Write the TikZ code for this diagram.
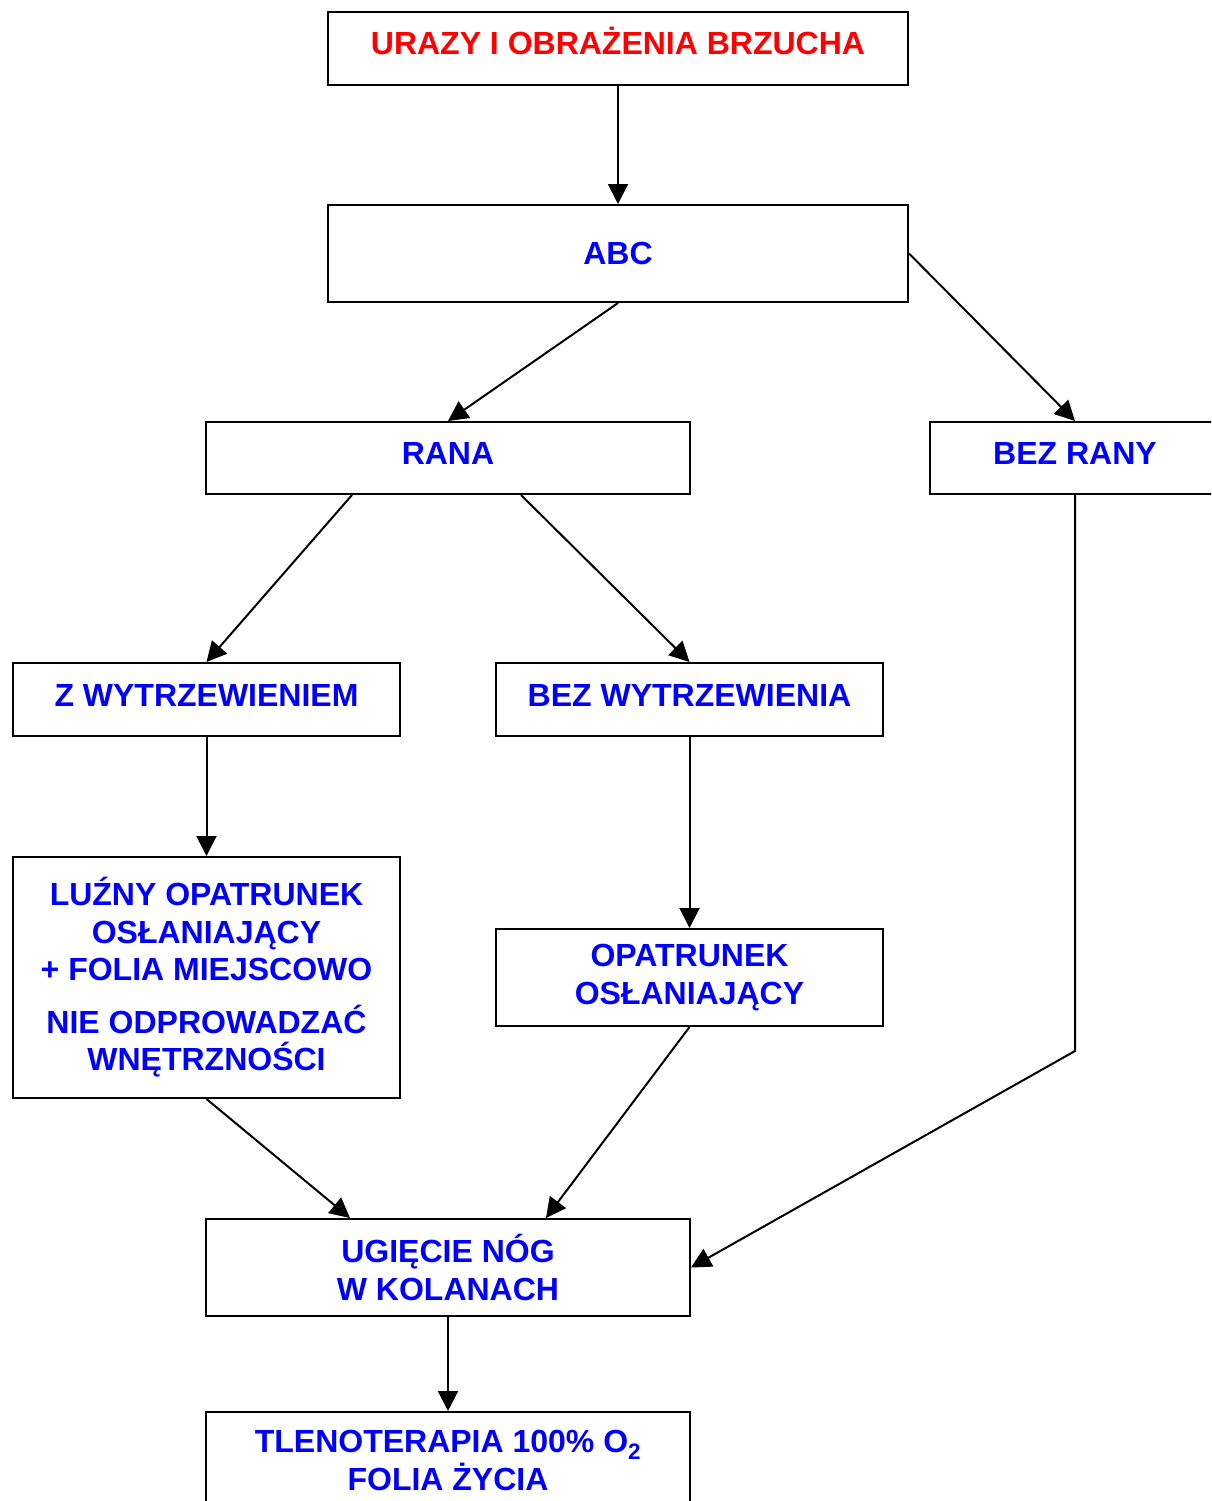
\documentclass[tikz,border=0pt]{standalone}
\usepackage{fontspec}
\setmainfont{Liberation Sans}
\usetikzlibrary{arrows.meta}

\begin{document}
\begin{tikzpicture}[x=1pt,y=-1pt,
  box/.style={draw,line width=2pt,align=center,inner sep=0pt,text=blue,
    font=\bfseries\fontsize{32}{37.5}\selectfont},
  one/.style={text height=23pt,text depth=10pt},
  arr/.style={line width=2pt,-{Triangle[length=20pt,width=20pt]}}]

  \useasboundingbox (0,0) rectangle (1211,1501);
  \clip (0,0) rectangle (1211,1501);

  % boxes
  \node [box,one,text=red,minimum width=580pt,minimum height=73pt] (ur) at (618,48.5) {URAZY I OBRAŻENIA BRZUCHA};
  \node [box,minimum width=580pt,minimum height=97pt] (abc) at (618,253.5) {ABC};
  \node [box,one,minimum width=484pt,minimum height=72pt] (ra) at (448,458) {RANA};
  \node [box,one,minimum width=290pt,minimum height=72pt] (br) at (1075,458) {BEZ RANY};
  \node [box,one,minimum width=387pt,minimum height=73pt] (zw) at (206.5,699.5) {Z WYTRZEWIENIEM};
  \node [box,one,minimum width=387pt,minimum height=73pt] (bw) at (689.5,699.5) {BEZ WYTRZEWIENIA};
  \node [box,minimum width=387pt,minimum height=241pt] (lo) at (206.5,977.5)
    {LUŹNY OPATRUNEK\\OSŁANIAJĄCY\\+ FOLIA MIEJSCOWO\\[15pt]NIE ODPROWADZAĆ\\WNĘTRZNOŚCI};
  \node [box,minimum width=387pt,minimum height=97pt] (op) at (689.5,977.5) {OPATRUNEK\\OSŁANIAJĄCY};
  \node [box,minimum width=484pt,minimum height=97pt] (un) at (448,1267.5) {UGIĘCIE NÓG\\W KOLANACH};
  \node [box,minimum width=484pt,minimum height=97pt] (tl) at (448,1460.5)
    {TLENOTERAPIA 100\% O\textsubscript{2}\\FOLIA ŻYCIA};

  % arrows
  \draw [arr] (ur) -- (abc);
  \draw [arr] (abc.south) -- (ra.north);
  \draw [arr] (abc.east) -- (br.north);
  \draw [arr] ([xshift=-96pt]ra.south) -- (zw.north);
  \draw [arr] ([xshift=73pt]ra.south) -- (bw.north);
  \draw [arr] (zw) -- (lo);
  \draw [arr] (bw) -- (op);
  \draw [arr] (lo.south) -- ([xshift=-98pt]un.north);
  \draw [arr] (op.south) -- ([xshift=98pt]un.north);
  \draw [arr] (br.south) -- ++(0,556) -- (un.east);
  \draw [arr] (un) -- (tl);

\end{tikzpicture}
\end{document}
